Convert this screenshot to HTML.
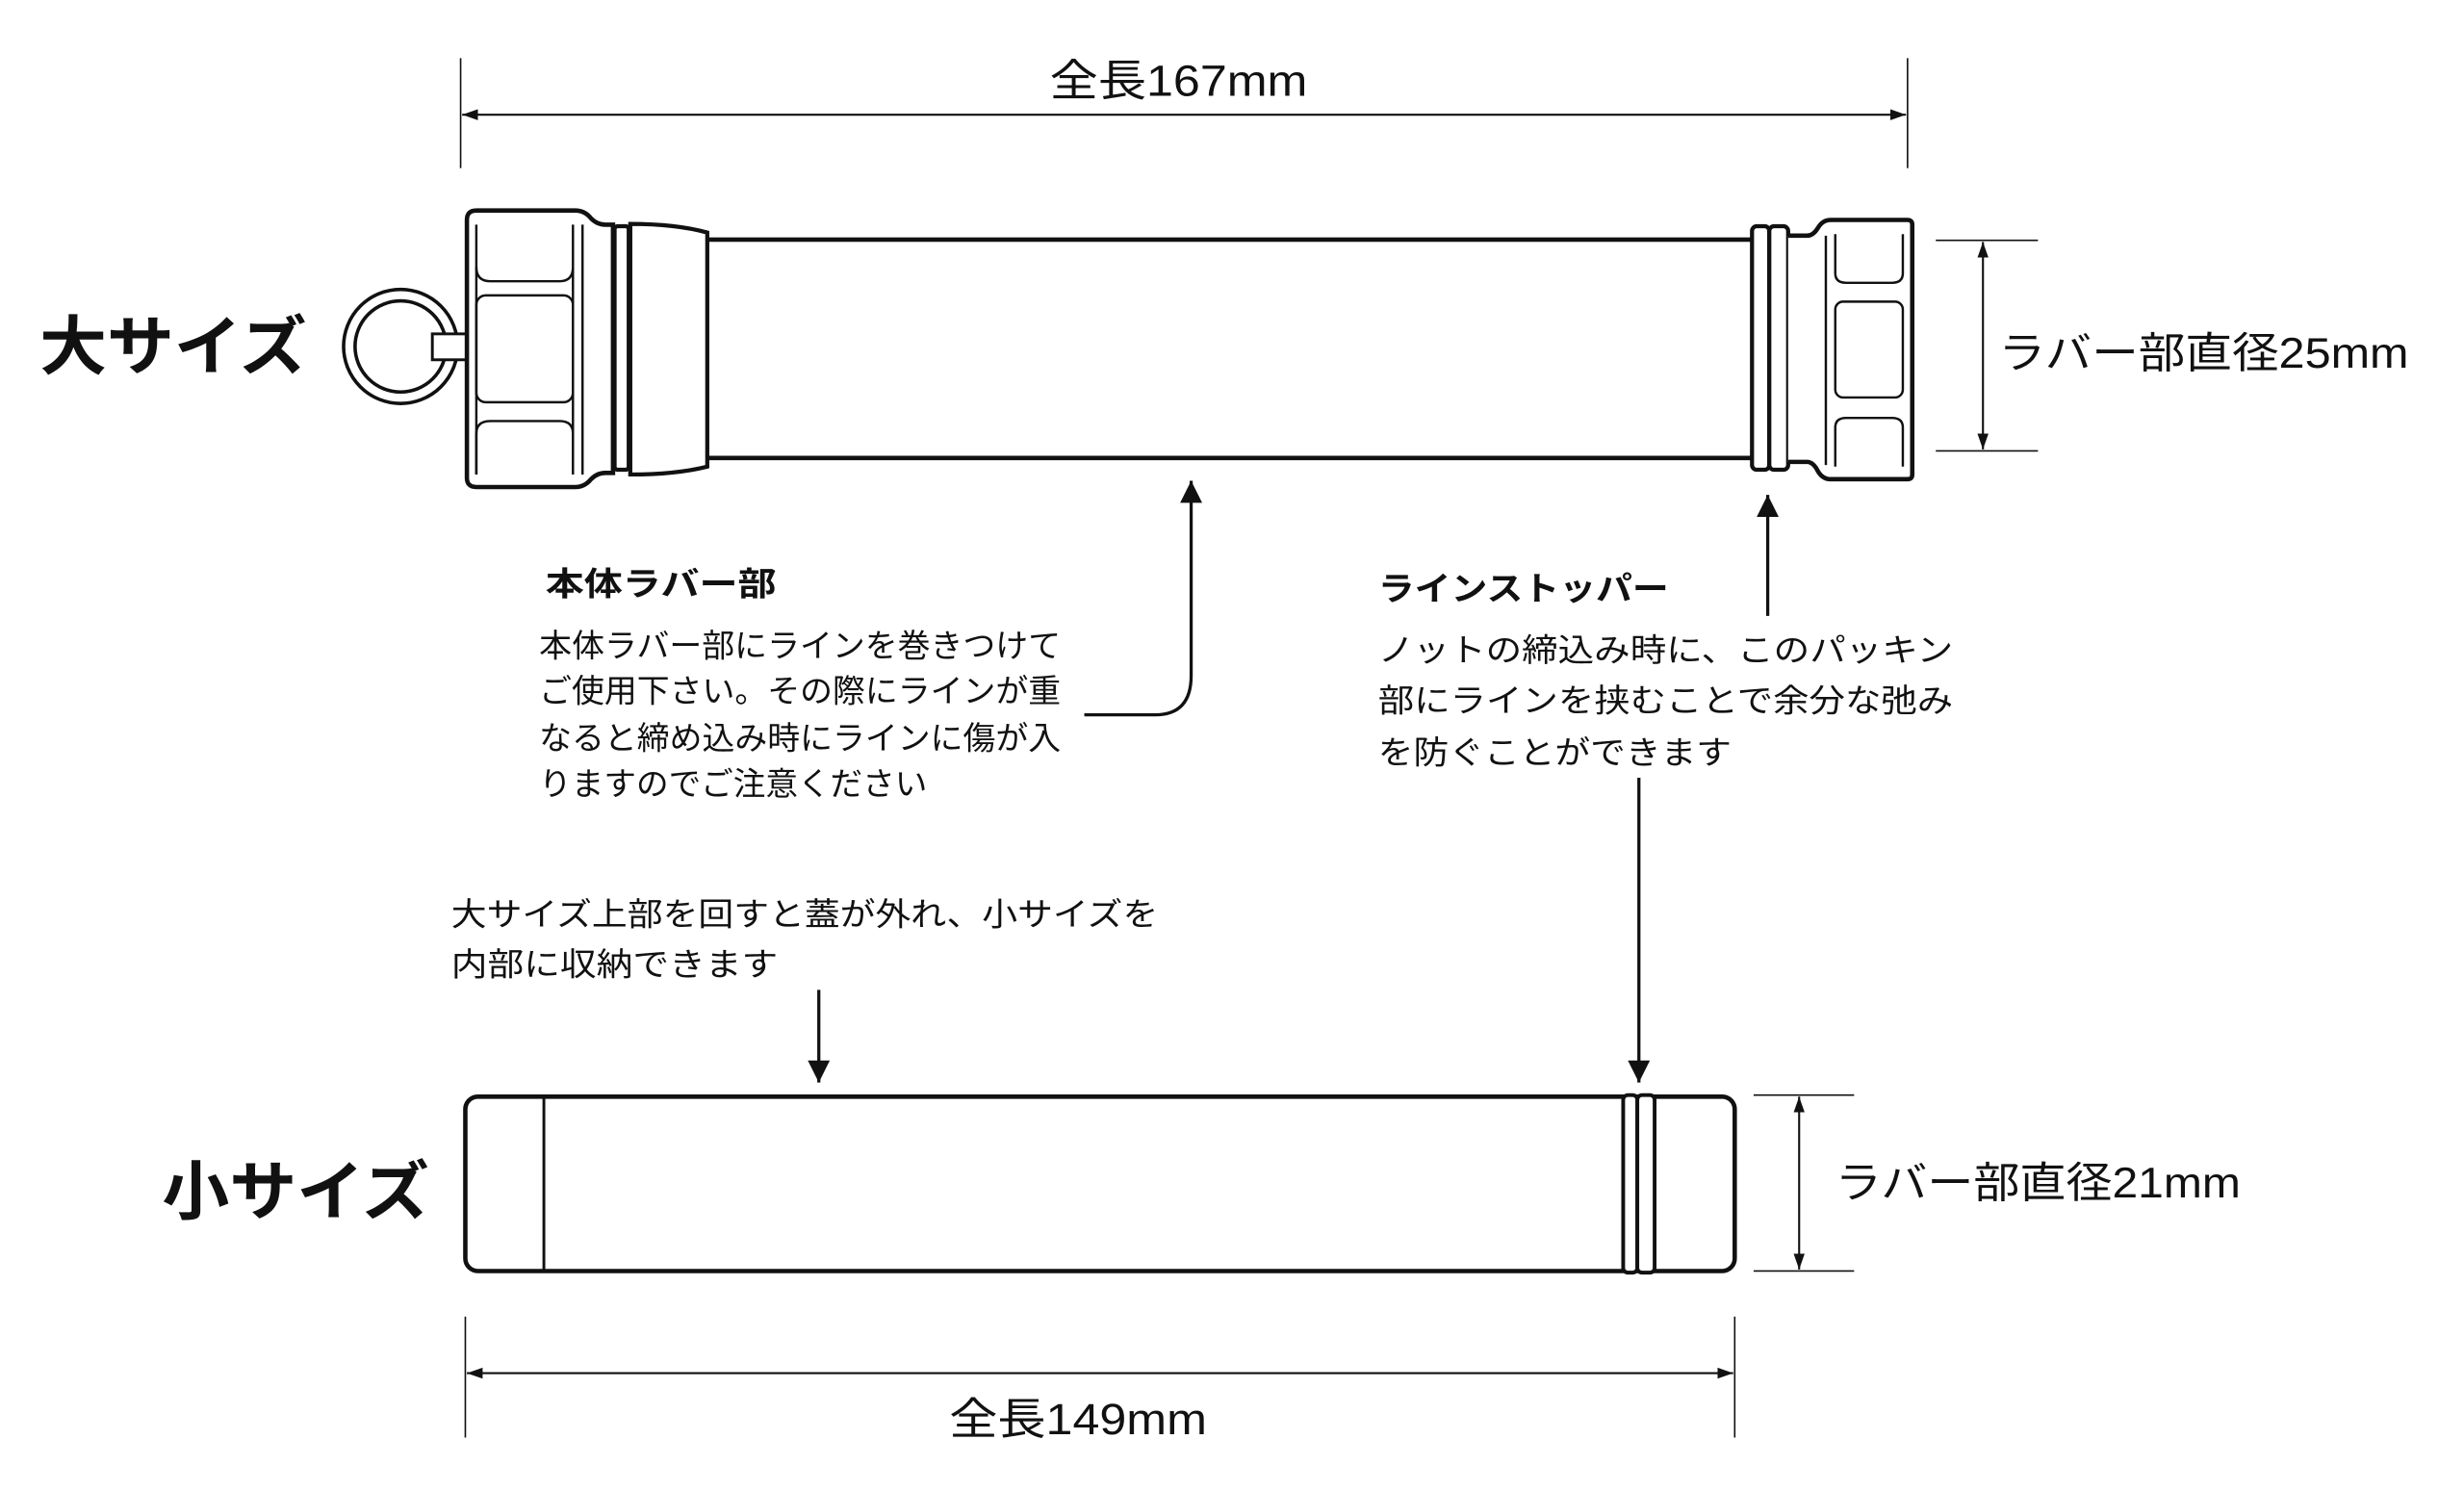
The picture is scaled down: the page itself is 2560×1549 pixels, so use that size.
<!DOCTYPE html>
<html><head><meta charset="utf-8"><style>
html,body{margin:0;padding:0;background:#fff;width:2560px;height:1549px;overflow:hidden}
svg{display:block}
text{font-family:"Liberation Sans","Noto Sans CJK JP",sans-serif;fill:#111}
.b{font-weight:bold}
</style></head><body>
<svg width="2560" height="1549" viewBox="0 0 1568 949" xmlns="http://www.w3.org/2000/svg">
<defs>
<marker id="ah" viewBox="0 0 10 10" refX="10" refY="5" markerWidth="10" markerHeight="10" markerUnits="userSpaceOnUse" orient="auto-start-reverse"><path d="M0,1.5 L10,5 L0,8.5 z" fill="#111"/></marker>
<marker id="ab" viewBox="0 0 10 10" refX="10" refY="5" markerWidth="20" markerHeight="14" markerUnits="userSpaceOnUse" orient="auto-start-reverse"><path d="M0,0 L10,5 L0,10 z" fill="#111"/></marker>
</defs>
<rect width="1568" height="949" fill="#fff"/>
<g stroke="#111" fill="none">
<line x1="293" y1="37" x2="293" y2="107" stroke-width="1"/>
<line x1="1214" y1="37" x2="1214" y2="107" stroke-width="1"/>
<line x1="294" y1="73" x2="1213" y2="73" stroke-width="1.3" marker-start="url(#ah)" marker-end="url(#ah)"/>
<circle cx="254.8" cy="220.5" r="36.3" stroke-width="2.2"/>
<circle cx="254.8" cy="220.5" r="29" stroke-width="2.2"/>
<rect x="275" y="212.5" width="22" height="16.5" fill="#fff" stroke-width="1.8"/>
<path d="M297,140 Q297,134 303,134 L366,134 Q372,134 376,139 Q380,143 385,143 L390,143 L390,301 L385,301 Q380,301 376,305 Q372,310 366,310 L303,310 Q297,310 297,304 Z" fill="#fff" stroke-width="2.8"/>
<line x1="303" y1="143" x2="303" y2="302" stroke-width="1.5"/>
<line x1="364.5" y1="143" x2="364.5" y2="302" stroke-width="1.5"/>
<line x1="370.6" y1="143" x2="370.6" y2="302" stroke-width="1.5"/>
<path d="M303,170 Q303,179 312,179 L356,179 Q364.5,179 364.5,170" stroke-width="1.5"/>
<rect x="303" y="188" width="61.5" height="68" rx="6" stroke-width="1.5"/>
<path d="M303,302 L303,276 Q303,268 312,268 L356,268 Q364.5,268 364.5,276 L364.5,302" stroke-width="1.5"/>
<rect x="391" y="144" width="9" height="155" rx="2" fill="#fff" stroke-width="2.6"/>
<path d="M401,142.5 Q430,142.5 450,148 L450,297 Q430,302 401,302 Z" fill="#fff" stroke-width="2.6"/>
<line x1="450" y1="152.5" x2="1115" y2="152.5" stroke-width="2.8"/>
<line x1="450" y1="291.5" x2="1115" y2="291.5" stroke-width="2.8"/>
<rect x="1115" y="144" width="11" height="155" rx="3" fill="#fff" stroke-width="2.6"/>
<rect x="1126" y="144" width="12" height="155" rx="3" fill="#fff" stroke-width="2.6"/>
<path d="M1138,150 L1150,150 Q1154,150 1157,145 Q1160,140 1165,140 L1214,140 Q1217,140 1217,143 L1217,302 Q1217,305 1214,305 L1165,305 Q1160,305 1157,300 Q1154,294 1150,294 L1138,294" fill="#fff" stroke-width="2.8"/>
<line x1="1162" y1="150" x2="1162" y2="296" stroke-width="1.5"/>
<path d="M1168,149 L1168,174 Q1168,180 1175,180 L1204,180 Q1211,180 1211,174 L1211,149" stroke-width="1.5"/>
<rect x="1168" y="192" width="43" height="61" rx="5" stroke-width="1.5"/>
<path d="M1168,297 L1168,272 Q1168,266 1175,266 L1204,266 Q1211,266 1211,272 L1211,297" stroke-width="1.5"/>
<line x1="1232" y1="153" x2="1297" y2="153" stroke-width="1"/>
<line x1="1232" y1="287" x2="1297" y2="287" stroke-width="1"/>
<line x1="1262" y1="154" x2="1262" y2="286" stroke-width="1.3" marker-start="url(#ah)" marker-end="url(#ah)"/>
<path d="M690,455 L735,455 Q758,455 758,430 L758,306" stroke-width="2" marker-end="url(#ab)"/>
<line x1="1125" y1="392" x2="1125" y2="315" stroke-width="2" marker-end="url(#ab)"/>
<line x1="1043" y1="495" x2="1043" y2="689" stroke-width="2" marker-end="url(#ab)"/>
<line x1="521" y1="630" x2="521" y2="689" stroke-width="2" marker-end="url(#ab)"/>
<rect x="296" y="698" width="808" height="111" rx="8" fill="#fff" stroke-width="2.8"/>
<line x1="346" y1="698" x2="346" y2="809" stroke-width="1.8"/>
<rect x="1033" y="697" width="9" height="113" rx="3" fill="#fff" stroke-width="2.4"/>
<rect x="1042" y="697" width="11" height="113" rx="3" fill="#fff" stroke-width="2.4"/>
<line x1="1116" y1="697" x2="1180" y2="697" stroke-width="1"/>
<line x1="1116" y1="809" x2="1180" y2="809" stroke-width="1"/>
<line x1="1145" y1="698" x2="1145" y2="808" stroke-width="1.3" marker-start="url(#ah)" marker-end="url(#ah)"/>
<line x1="296" y1="838" x2="296" y2="915" stroke-width="1"/>
<line x1="1104" y1="838" x2="1104" y2="915" stroke-width="1"/>
<line x1="297" y1="874" x2="1103" y2="874" stroke-width="1.3" marker-start="url(#ah)" marker-end="url(#ah)"/>
</g>
<text x="668" y="61" font-size="28" textLength="164" lengthAdjust="spacingAndGlyphs">全長167mm</text>
<text x="25" y="235" font-size="41" class="b" textLength="170" lengthAdjust="spacingAndGlyphs">大サイズ</text>
<text x="1272" y="234" font-size="27" textLength="261" lengthAdjust="spacingAndGlyphs">ラバー部直径25mm</text>
<text x="347" y="379" font-size="21" class="b" textLength="147" lengthAdjust="spacingAndGlyphs">本体ラバー部</text>
<g font-size="20.5">
<text x="343" y="418" textLength="332" lengthAdjust="spacingAndGlyphs">本体ラバー部にラインを巻きつけて</text>
<text x="343" y="447" textLength="332" lengthAdjust="spacingAndGlyphs">ご使用下さい。その際にラインが重</text>
<text x="343" y="477" textLength="332" lengthAdjust="spacingAndGlyphs">なると締め込み時にラインに傷が入</text>
<text x="343" y="506" textLength="247" lengthAdjust="spacingAndGlyphs">りますのでご注意ください</text>
</g>
<text x="877" y="382" font-size="21" class="b" textLength="185" lengthAdjust="spacingAndGlyphs">ラインストッパー</text>
<g font-size="20.5">
<text x="877" y="421" textLength="366" lengthAdjust="spacingAndGlyphs">ノットの締込み時に、このパッキン</text>
<text x="877" y="453" textLength="366" lengthAdjust="spacingAndGlyphs">部にラインを挟むことで余分な弛み</text>
<text x="877" y="486" textLength="225" lengthAdjust="spacingAndGlyphs">を防ぐことができます</text>
<text x="287" y="589" textLength="450" lengthAdjust="spacingAndGlyphs">大サイズ上部を回すと蓋が外れ、小サイズを</text>
<text x="287" y="621" textLength="208" lengthAdjust="spacingAndGlyphs">内部に収納できます</text>
</g>
<text x="103" y="773" font-size="41" class="b" textLength="170" lengthAdjust="spacingAndGlyphs">小サイズ</text>
<text x="1168" y="762" font-size="27" textLength="258" lengthAdjust="spacingAndGlyphs">ラバー部直径21mm</text>
<text x="604" y="913" font-size="28" textLength="164" lengthAdjust="spacingAndGlyphs">全長149mm</text>
</svg>
</body></html>
